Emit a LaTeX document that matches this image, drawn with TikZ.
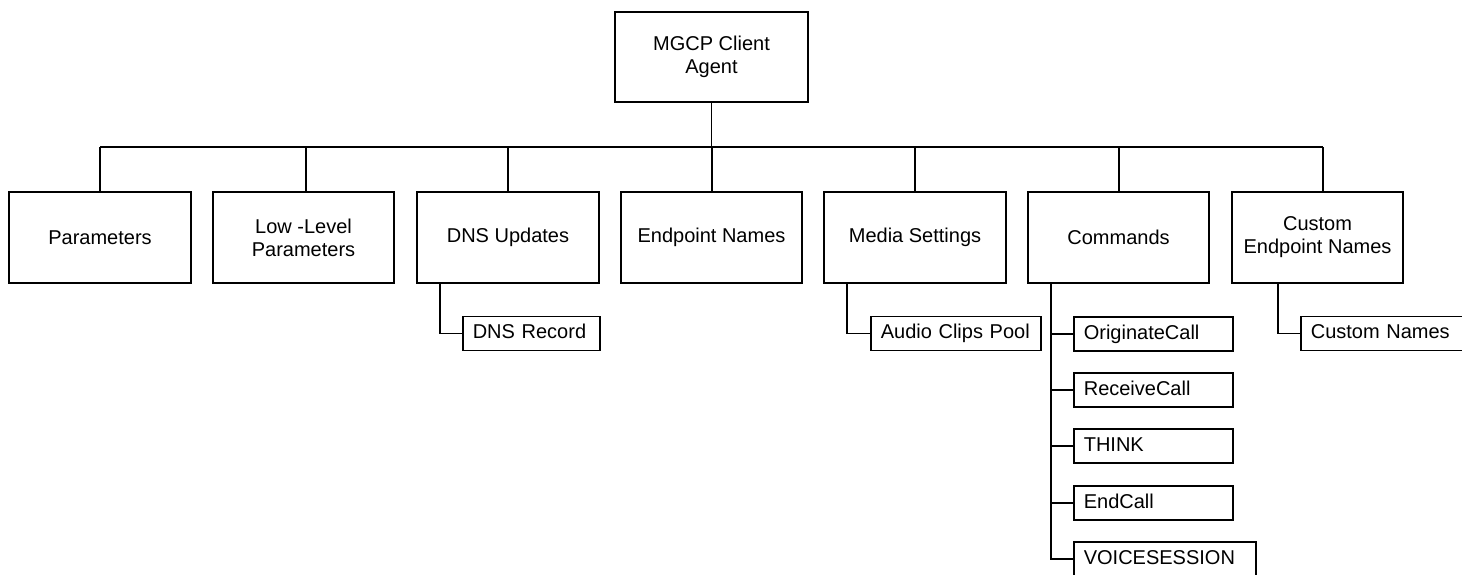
\documentclass[tikz,border=0pt]{standalone}
\usepackage{fontspec}
\setmainfont{Liberation Sans}
\begin{document}
\begin{tikzpicture}[x=1pt,y=-1pt,line width=1.6pt,
  every node/.style={font=\fontsize{20}{23}\selectfont},
  bigbox/.style={draw, align=center, inner sep=0pt, minimum height=90pt},
  leafbox/.style={draw, anchor=west, minimum height=34pt, text height=14.5pt, text depth=4.5pt, inner xsep=10pt, inner ysep=0pt, align=left}]
\useasboundingbox (0,0) rectangle (1462,574);
\clip (0,0) rectangle (1462,574);
\fill[white] (0,0) rectangle (1462,574);
% root
\node[bigbox, minimum width=193pt] (top) at (711.5,57) {MGCP Client\\Agent};
\coordinate (bus) at (712,147);
% level 1
\node[bigbox, minimum width=182pt, minimum height=91pt] (P)  at (100,237.5)   {Parameters};
\node[bigbox, minimum width=181pt, minimum height=91pt] (LL) at (303.5,237.5) {Low -Level\\Parameters};
\node[bigbox, minimum width=182pt, minimum height=91pt] (DU) at (508,237.5)   {DNS Updates};
\node[bigbox, minimum width=181pt, minimum height=91pt] (EN) at (711.5,237.5) {Endpoint Names};
\node[bigbox, minimum width=182pt, minimum height=91pt] (MS) at (915,237.5)   {Media Settings};
\node[bigbox, minimum width=181pt, minimum height=91pt] (CM) at (1118.5,237.5) {Commands};
\node[bigbox, minimum width=171pt, minimum height=91pt] (CE) at (1317.5,237.5) {Custom\\Endpoint Names};
% trunk and bus
\draw (top.south) -- (top.south |- bus);
\draw (P.north |- bus) -- (1323,0 |- bus);
\draw (P.north) -- (P.north |- bus);
\draw (306,0 |- LL.north) -- (306,0 |- bus);
\draw (DU.north) -- (DU.north |- bus);
\draw (EN.north -| 712,0) -- (712,0 |- bus);
\draw (MS.north) -- (MS.north |- bus);
\draw (CM.north -| 1119,0) -- (1119,0 |- bus);
\draw (CE.north -| 1323,0) -- (1323,0 |- bus);
% leaves
\node[leafbox, text width=117pt] (DR) at (462,333.5) {DNS Record};
\node[leafbox, text width=150pt] (AC) at (870,333.5) {Audio Clips Pool};
\node[leafbox, text width=160pt] (CN) at (1300,333.5) {Custom Names};
\node[leafbox, text width=139pt] (c1) at (1073,334) {OriginateCall};
\node[leafbox, text width=139pt] (c2) at (1073,390) {ReceiveCall};
\node[leafbox, text width=139pt] (c3) at (1073,446) {THINK};
\node[leafbox, text width=139pt] (c4) at (1073,503) {EndCall};
\node[leafbox, text width=162pt] (c5) at (1073,559) {VOICESESSION};
\draw (DU.south -| 440,0) |- (DR.west);
\draw (MS.south -| 847,0) |- (AC.west);
\draw (CE.south -| 1278,0) |- (CN.west);
\draw (CM.south -| 1051,0) |- (c5.west);
\draw (c1.west) -- (c1.west -| 1051,0);
\draw (c2.west) -- (c2.west -| 1051,0);
\draw (c3.west) -- (c3.west -| 1051,0);
\draw (c4.west) -- (c4.west -| 1051,0);
\end{tikzpicture}
\end{document}
